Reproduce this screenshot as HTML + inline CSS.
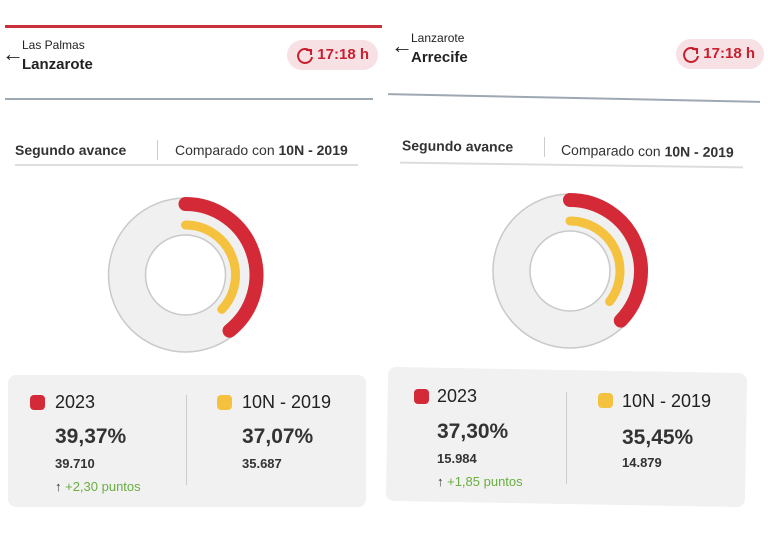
<!DOCTYPE html>
<html><head><meta charset="utf-8"><style>
body{margin:0;width:768px;height:534px;background:#fff;position:relative;overflow:hidden;font-family:"Liberation Sans",sans-serif;color:#222}
.a{position:absolute;white-space:nowrap}
.pill{position:absolute;background:#f8e1e4;border-radius:16px;color:#c7202f;font-weight:bold;font-size:15px;line-height:30px;text-align:right;padding-right:9px;box-sizing:border-box}
.box{position:absolute;background:#f1f1f1;border-radius:8px}
.dot{position:absolute;width:15px;height:15px;border-radius:4px}
.arr{font-size:22px;font-weight:bold}
</style></head><body>
<!-- left panel -->
<div class="a" style="left:5px;top:25px;width:377px;height:3px;background:#c8303c"></div>
<div class="a arr" style="left:2px;top:41px">&#8592;</div>
<div class="a" style="left:22px;top:38px;font-size:12px">Las Palmas</div>
<div class="a" style="left:22px;top:56px;font-size:15px;font-weight:bold">Lanzarote</div>
<div class="pill" style="left:287px;top:40px;width:91px;height:30px">17:18 h</div>
<svg class="a" style="left:295px;top:46px" width="20" height="20"><path d="M15 5 A7 7 0 1 0 17 11" fill="none" stroke="#c7202f" stroke-width="2"/><path d="M11 4 L16 4 L16 9" fill="none" stroke="#c7202f" stroke-width="2"/></svg>
<div class="a" style="left:5px;top:98px;width:368px;height:2px;background:#9ea8b2"></div>
<div class="a" style="left:15px;top:142px;font-size:14px;font-weight:bold;color:#333">Segundo avance</div>
<div class="a" style="left:157px;top:140px;width:1px;height:20px;background:#ccc"></div>
<div class="a" style="left:175px;top:142px;font-size:14px;color:#333">Comparado con <b>10N - 2019</b></div>
<div class="a" style="left:15px;top:164px;width:343px;height:2px;background:#ddd"></div>
<div class="box" style="left:8px;top:375px;width:358px;height:132px"></div>
<div class="dot" style="left:30px;top:395px;background:#d42a38"></div>
<div class="a" style="left:55px;top:392px;font-size:18px">2023</div>
<div class="a" style="left:55px;top:425px;font-size:21px;font-weight:bold;color:#333">39,37%</div>
<div class="a" style="left:55px;top:456px;font-size:13px;font-weight:bold;color:#333">39.710</div>
<div class="a" style="left:55px;top:479px;font-size:13px;color:#6aae3f"><span style="color:#333">&#8593;</span> +2,30 puntos</div>
<div class="a" style="left:186px;top:395px;width:1px;height:90px;background:#ccc"></div>
<div class="dot" style="left:217px;top:395px;background:#f4c23f"></div>
<div class="a" style="left:242px;top:392px;font-size:18px">10N - 2019</div>
<div class="a" style="left:242px;top:425px;font-size:21px;font-weight:bold;color:#333">37,07%</div>
<div class="a" style="left:242px;top:456px;font-size:13px;font-weight:bold;color:#333">35.687</div>
<!-- right panel -->
<div class="a arr" style="left:391px;top:33px">&#8592;</div>
<div class="a" style="left:411px;top:31px;font-size:12px">Lanzarote</div>
<div class="a" style="left:411px;top:49px;font-size:15px;font-weight:bold">Arrecife</div>
<div class="pill" style="left:676px;top:39px;width:88px;height:30px">17:18 h</div>
<svg class="a" style="left:681px;top:45px" width="20" height="20"><path d="M15 5 A7 7 0 1 0 17 11" fill="none" stroke="#c7202f" stroke-width="2"/><path d="M11 4 L16 4 L16 9" fill="none" stroke="#c7202f" stroke-width="2"/></svg>
<div class="a" style="left:388px;top:97px;width:372px;height:2px;background:#9ea8b2;transform:rotate(1.2deg);transform-origin:center"></div>
<div class="a" style="left:402px;top:138px;font-size:14px;font-weight:bold;color:#333;transform:rotate(0.8deg)">Segundo avance</div>
<div class="a" style="left:544px;top:137px;width:1px;height:20px;background:#ccc"></div>
<div class="a" style="left:561px;top:143px;font-size:14px;color:#333;transform:rotate(0.8deg)">Comparado con <b>10N - 2019</b></div>
<div class="a" style="left:400px;top:164px;width:343px;height:2px;background:#ddd;transform:rotate(0.8deg)"></div>
<div class="box" style="left:387px;top:370px;width:359px;height:134px;transform:rotate(1deg)"></div>
<div class="dot" style="left:414px;top:389px;background:#d42a38"></div>
<div class="a" style="left:437px;top:386px;font-size:18px">2023</div>
<div class="a" style="left:437px;top:420px;font-size:21px;font-weight:bold;color:#333">37,30%</div>
<div class="a" style="left:437px;top:451px;font-size:13px;font-weight:bold;color:#333">15.984</div>
<div class="a" style="left:437px;top:474px;font-size:13px;color:#6aae3f"><span style="color:#333">&#8593;</span> +1,85 puntos</div>
<div class="a" style="left:566px;top:392px;width:1px;height:92px;background:#ccc"></div>
<div class="dot" style="left:598px;top:393px;background:#f4c23f"></div>
<div class="a" style="left:622px;top:391px;font-size:18px">10N - 2019</div>
<div class="a" style="left:622px;top:426px;font-size:21px;font-weight:bold;color:#333">35,45%</div>
<div class="a" style="left:622px;top:455px;font-size:13px;font-weight:bold;color:#333">14.879</div>
<!-- donuts -->
<svg class="a" style="left:0;top:0" width="768" height="534">
<circle cx="185.5" cy="275" r="58.5" fill="none" stroke="#f0f0f0" stroke-width="37"/>
<circle cx="185.5" cy="275" r="77" fill="none" stroke="#c9c9c9" stroke-width="1.5"/>
<circle cx="185.5" cy="275" r="40" fill="#fff" stroke="#c9c9c9" stroke-width="1.5"/>
<path d="M185.5 204 A71 71 0 0 1 229.5 330.7" fill="none" stroke="#d42a38" stroke-width="14" stroke-linecap="round"/>
<path d="M185.5 225 A50 50 0 0 1 221.8 309.4" fill="none" stroke="#f4c23f" stroke-width="9" stroke-linecap="round"/>
<circle cx="570" cy="271" r="58.5" fill="none" stroke="#f0f0f0" stroke-width="37"/>
<circle cx="570" cy="271" r="77" fill="none" stroke="#c9c9c9" stroke-width="1.5"/>
<circle cx="570" cy="271" r="40" fill="#fff" stroke="#c9c9c9" stroke-width="1.5"/>
<path d="M570 200 A71 71 0 0 1 620.8 320.6" fill="none" stroke="#d42a38" stroke-width="14" stroke-linecap="round"/>
<path d="M570 221 A50 50 0 0 1 609.6 301.5" fill="none" stroke="#f4c23f" stroke-width="9" stroke-linecap="round"/>
</svg>
</body></html>
